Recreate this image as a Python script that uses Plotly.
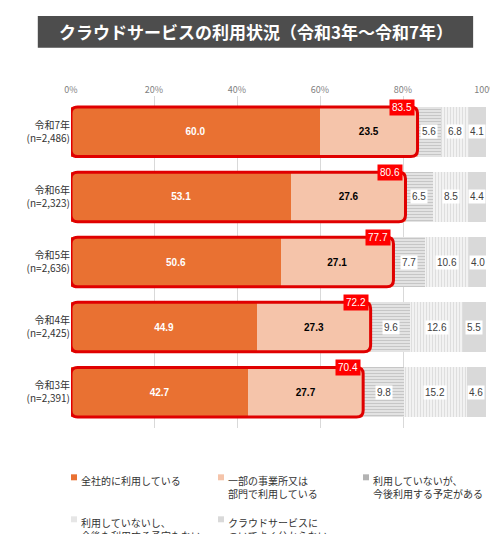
import plotly.graph_objects as go

years = ["令和7年<br>(n=2,486)", "令和6年<br>(n=2,323)", "令和5年<br>(n=2,636)", "令和4年<br>(n=2,425)", "令和3年<br>(n=2,391)"]
s1 = [60.0, 53.1, 50.6, 44.9, 42.7]
s2 = [23.5, 27.6, 27.1, 27.3, 27.7]
s3 = [5.6, 6.5, 7.7, 9.6, 9.8]
s4 = [6.8, 8.5, 10.6, 12.6, 15.2]
s5 = [4.1, 4.4, 4.0, 5.5, 4.6]
totals = [83.5, 80.6, 77.7, 72.2, 70.4]
names = ["全社的に利用している", "一部の事業所又は<br>部門で利用している", "利用していないが、<br>今後利用する予定がある",
         "利用していないし、<br>今後も利用する予定もない", "クラウドサービスに<br>ついてよく分からない"]

ys = [4, 3, 2, 1, 0]
fig = go.Figure()
styles = [
    dict(color="#E97132", pattern=None),
    dict(color="#F5C4AA", pattern=None),
    dict(color="#D9D9D9", pattern=dict(shape="-", fgcolor="#A6A6A6", bgcolor="#E6E6E6", size=3, solidity=0.4)),
    dict(color="#F2F2F2", pattern=dict(shape="|", fgcolor="#C8C8C8", bgcolor="#F4F4F4", size=3, solidity=0.4)),
    dict(color="#D9D9D9", pattern=None),
]
legend_colors = ["#E97132", "#F5C4AA", "#B3B3B3", "#E6E6E6", "#D9D9D9"]
series = [s1, s2, s3, s4, s5]
for i, (vals, st, nm) in enumerate(zip(series, styles, names)):
    marker = dict(color=st["color"], line=dict(width=0))
    if st["pattern"]:
        marker["pattern"] = st["pattern"]
    fig.add_trace(go.Bar(
        x=vals, y=ys, orientation="h", name=nm, marker=marker, width=0.76,
        text=[f"<b>{v:.1f}</b>" for v in vals] if i < 2 else None,
        textposition="inside", insidetextanchor="middle",
        textfont=dict(color="white" if i == 0 else "black", size=10, family="Liberation Sans"),
        hoverinfo="skip"))

for k, y in enumerate(ys):
    base = s1[k] + s2[k]
    for vals in (s3, s4, s5):
        fig.add_annotation(x=base + vals[k] / 2, y=y, text=f"{vals[k]:.1f}", showarrow=False,
                           bgcolor="white", font=dict(size=10, color="#404040", family="Liberation Sans"),
                           borderpad=1)
        base += vals[k]
    t = totals[k]
    y0, y1 = y - 0.38, y + 0.38
    rx, ry = 1.6, 0.1
    path = (f"M {rx},{y0} L {t-rx},{y0} Q {t},{y0} {t},{y0+ry} L {t},{y1-ry} Q {t},{y1} {t-rx},{y1} "
            f"L {rx},{y1} Q 0,{y1} 0,{y1-ry} L 0,{y0+ry} Q 0,{y0} {rx},{y0} Z")
    fig.add_shape(type="path", path=path, line=dict(color="#E00000", width=3), xref="x", yref="y")
    fig.add_annotation(x=t - 0.5, y=y1, text=f"{t:.1f}", showarrow=False, xanchor="right", yanchor="middle",
                       bgcolor="#FF0000", font=dict(color="white", size=10, family="Liberation Sans"), borderpad=2)

# title banner
fig.add_shape(type="rect", xref="paper", yref="paper", x0=-0.08, x1=0.969, y0=1.145, y1=1.241,
              fillcolor="#4D4D4D", line=dict(width=0), layer="below")
fig.add_annotation(xref="paper", yref="paper", x=0.445, y=1.193, showarrow=False, yanchor="middle",
                   text="<b>クラウドサービスの利用状況（令和3年～令和7年）</b>",
                   font=dict(color="white", size=17, family="Noto Sans CJK JP"))

# manual legend
pos = [(63, 463), (210, 463), (355, 463), (63, 505), (210, 505)]
for (px, py), nm, c in zip(pos, names, legend_colors):
    xp = (px - 63) / 415
    yp = (420 - py) / 332
    fig.add_shape(type="rect", xref="paper", yref="paper", x0=xp, x1=xp + 0.0145,
                  y0=yp - 0.028, y1=yp - 0.01, fillcolor=c, line=dict(width=0))
    fig.add_annotation(xref="paper", yref="paper", x=xp + 0.02, y=yp, xanchor="left", yanchor="top",
                       align="left", showarrow=False, text=nm, font=dict(size=10, color="#333333"))

fig.update_layout(
    width=498, height=534, barmode="stack", plot_bgcolor="white", paper_bgcolor="white",
    margin=dict(l=63, r=20, t=88, b=114, autoexpand=False),
    font=dict(family="Noto Sans CJK JP", size=10, color="#333333"),
    xaxis=dict(range=[0, 100], side="top", tickvals=[0, 20, 40, 60, 80, 100],
               ticktext=["0%", "20%", "40%", "60%", "80%", "100%"], showgrid=True, gridcolor="#D9D9D9",
               tickfont=dict(size=9, color="#7F7F7F"), zeroline=False, fixedrange=True),
    yaxis=dict(tickvals=ys, ticktext=years, range=[-0.55, 4.55], showgrid=False, zeroline=False,
               tickfont=dict(size=10, color="#333333")),
    showlegend=False,
)
fig.write_html("out.html")
